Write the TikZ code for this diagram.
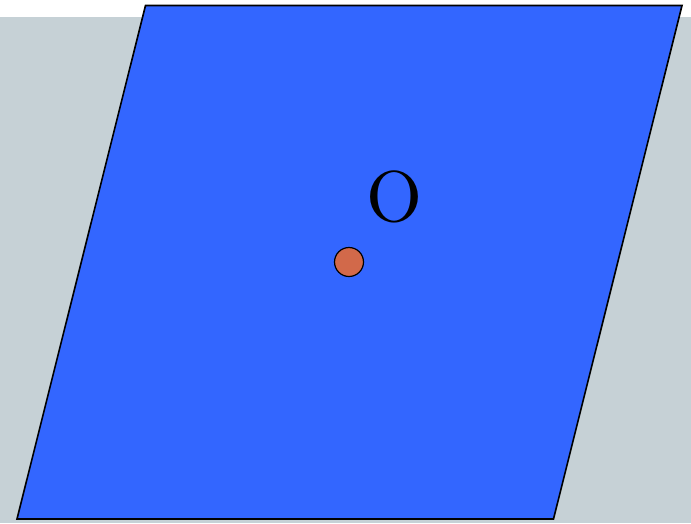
\documentclass[tikz,border=0pt]{standalone}
\usepackage{tikz}
\definecolor{planeblue}{HTML}{3366FF}
\definecolor{backgray}{HTML}{C6D1D6}
\definecolor{pointred}{HTML}{D2694A}

\begin{document}
\begin{tikzpicture}[x=1pt, y=-1pt]
	\useasboundingbox (0,0) rectangle (691,523);
	\fill[backgray] (0,17) rectangle (691,523);
	\begin{scope}[every node/.style = {inner sep=0pt}]
		\coordinate (TL) at (145.5,5.5);
		\coordinate (TR) at (682,5.5);
		\coordinate (BR) at (553.5,519);
		\coordinate (BL) at (17,519);
	\end{scope}
	\filldraw[fill=planeblue, draw=black, line width=1.6pt, line join=miter]
		(TL) -- (TR) -- (BR) -- (BL) -- cycle;
	\node[circle, draw=black, line width=1.2pt, fill=pointred,
		minimum size=29pt, inner sep=0pt] (P) at (349,262) {};
	\node[inner sep=0pt] (O) at (394.5,197) {\scalebox{7.2}{O}};
\end{tikzpicture}
\end{document}
